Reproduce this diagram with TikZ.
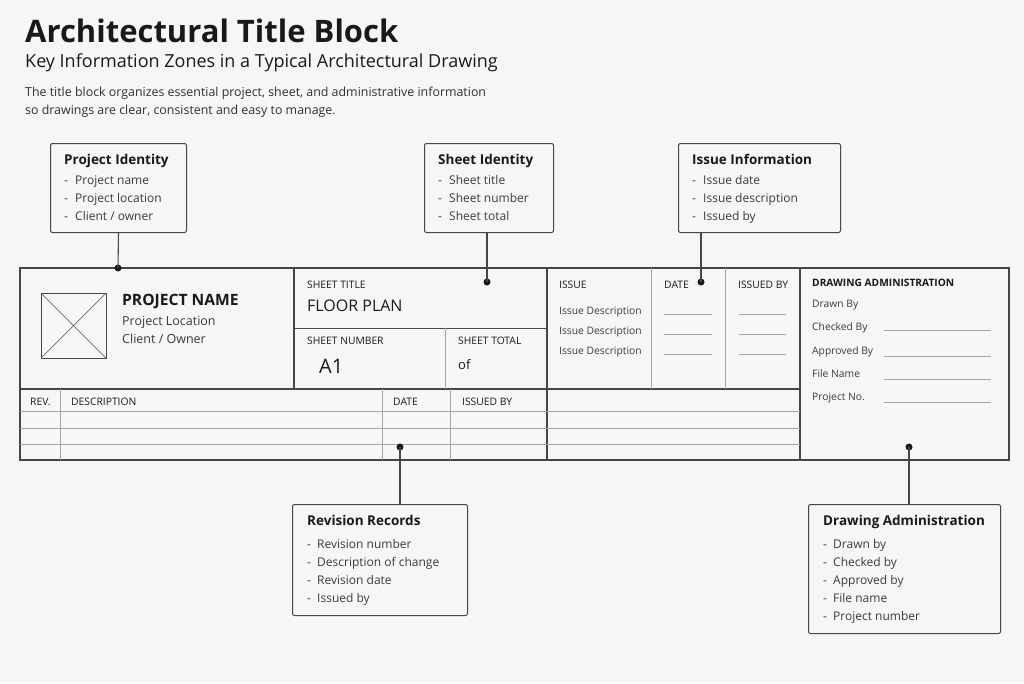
\documentclass[tikz,border=0pt]{standalone}
\usepackage{fontspec}
\setmainfont{Open Sans}
\definecolor{paper}{RGB}{246,246,244}
\definecolor{ink}{RGB}{25,25,25}
\definecolor{rule}{RGB}{70,70,70}
\definecolor{hair}{RGB}{165,165,165}
\newcommand{\fs}[1]{\fontsize{#1}{#1}\selectfont}

\begin{document}
\begin{tikzpicture}[x=1pt,y=-1pt,
    frame/.style={draw=rule, line width=1.3pt},
    thin/.style={draw=hair, line width=0.7pt},
    txt/.style={anchor=base west, inner sep=0pt, text=ink},
    hdr/.style={txt, font=\fs{10.3}},
    item/.style={txt, font=\fs{12}, text=ink!85},
    boxtitle/.style={txt, font=\bfseries\fs{13.5}},
    callout/.style={draw=rule, line width=1pt, rounded corners=2pt, fill=paper, anchor=north west, inner sep=0pt},
    dot/.style={circle, fill=ink, inner sep=0pt, minimum size=7pt},
    conn/.style={draw=rule, line width=1.1pt}]

% page
\fill[paper] (0,0) rectangle (1024,683);
\useasboundingbox (0,0) rectangle (1024,683);

% heading
\node[txt, font=\bfseries\fs{31}] (title) at (25,42.5) {Architectural Title Block};
\node[txt, font=\fs{18}] (subtitle) at (25,67.5) {Key Information Zones in a Typical Architectural Drawing};
\node[txt, font=\fs{12.4}, text=ink!90] (intro1) at (25,96) {The title block organizes essential project, sheet, and administrative information};
\node[txt, font=\fs{12.4}, text=ink!90] (intro2) at (25,114) {so drawings are clear, consistent and easy to manage.};

% title block frame
\draw[frame] (20,268) rectangle (1009,460);
\draw[frame] (294,268) -- (294,389);
\draw[frame] (20,389) -- (800,389);
\draw[frame] (547,268) -- (547,460);
\draw[frame] (800,268) -- (800,460);
\draw[draw=rule, line width=0.9pt] (294,328) -- (547,328);
\draw[thin] (445,328) -- (445,389);
\draw[thin] (651,268) -- (651,389);
\draw[thin] (725,268) -- (725,389);
\foreach \y in {411,428,444}
  \draw[thin] (20,\y) -- (800,\y);
\foreach \x in {60,382,450}
  \draw[thin] (\x,389) -- (\x,460);

% project zone
\draw[draw=rule, line width=1pt] (41,293) rectangle (106,358);
\draw[thin, draw=rule!80] (41,293) -- (106,358) (41,358) -- (106,293);
\node[txt, font=\bfseries\fs{15.6}] (pname) at (122,305) {PROJECT NAME};
\node[txt, font=\fs{12.5}, text=ink!85] (ploc) at (122,325) {Project Location};
\node[txt, font=\fs{12.5}, text=ink!85] (pcli) at (122,343) {Client / Owner};

% sheet zone
\node[hdr] (stitle) at (307,288) {SHEET TITLE};
\node[txt, font=\fs{16}] (floor) at (307,311) {FLOOR PLAN};
\node[hdr] (snum) at (307,344.5) {SHEET NUMBER};
\node[txt, font=\fs{20}] (aone) at (319,373) {A1};
\node[hdr] (stot) at (458,344.5) {SHEET TOTAL};
\node[txt, font=\fs{13}] (of) at (458,369) {of};

% issue zone
\node[hdr] (issue) at (559,288) {ISSUE};
\node[hdr] (idate) at (664,288) {DATE};
\node[hdr] (iby) at (738,288) {ISSUED BY};
\foreach \y [count=\i] in {314,334,354}{
  \node[txt, font=\fs{10.3}, text=ink!85] (idesc\i) at (559,\y) {Issue Description};
  \draw[thin] (664,\y) -- (712,\y);
  \draw[thin] (739,\y) -- (786,\y);
}

% revision table
\node[hdr] (rev) at (30,405) {REV.};
\node[hdr] (rdesc) at (71,405) {DESCRIPTION};
\node[hdr] (rdate) at (393,405) {DATE};
\node[hdr] (rby) at (462,405) {ISSUED BY};

% drawing administration zone
\node[txt, font=\bfseries\fs{10.2}] (dadm) at (812,286) {DRAWING ADMINISTRATION};
\node[txt, font=\fs{10.3}, text=ink!85] (drawn) at (812,307) {Drawn By};
\foreach \t/\y/\l [count=\i] in {Checked By/330/330, Approved By/354/356, File Name/377/379, Project No./400/402}{
  \node[txt, font=\fs{10.3}, text=ink!85] (adm\i) at (812,\y) {\t};
  \draw[thin] (884,\l) -- (991,\l);
}

% callouts
\node[callout, minimum width=136pt, minimum height=89pt] (pid) at (50,143) {};
\node[boxtitle] (pidt) at (64,164) {Project Identity};
\foreach \t [count=\i] in {Project name, Project location, Client / owner}{
  \node[item] at (64,{166+18*\i}) {-};
  \node[item] (pid\i) at (75,{166+18*\i}) {\t};
}

\node[callout, minimum width=129pt, minimum height=89pt] (sid) at (424,143) {};
\node[boxtitle] (sidt) at (438,164) {Sheet Identity};
\foreach \t [count=\i] in {Sheet title, Sheet number, Sheet total}{
  \node[item] at (438,{166+18*\i}) {-};
  \node[item] (sid\i) at (449,{166+18*\i}) {\t};
}

\node[callout, minimum width=162pt, minimum height=89pt] (iid) at (678,143) {};
\node[boxtitle] (iidt) at (692,164) {Issue Information};
\foreach \t [count=\i] in {Issue date, Issue description, Issued by}{
  \node[item] at (692,{166+18*\i}) {-};
  \node[item] (iid\i) at (703,{166+18*\i}) {\t};
}

\node[callout, minimum width=175pt, minimum height=111pt] (rrec) at (292,504) {};
\node[boxtitle] (rrect) at (307,525) {Revision Records};
\foreach \t [count=\i] in {Revision number, Description of change, Revision date, Issued by}{
  \node[item] at (307,{530+18*\i}) {-};
  \node[item] (rrec\i) at (317,{530+18*\i}) {\t};
}

\node[callout, minimum width=192pt, minimum height=129pt] (dad) at (808,504) {};
\node[boxtitle] (dadt) at (823,525) {Drawing Administration};
\foreach \t [count=\i] in {Drawn by, Checked by, Approved by, File name, Project number}{
  \node[item] at (823,{530+18*\i}) {-};
  \node[item] (dad\i) at (833,{530+18*\i}) {\t};
}

% connectors
\node[dot] (pdot) at (118,268) {};
\node[dot] (sdot) at (487,282) {};
\node[dot] (idot) at (701,282) {};
\node[dot] (rdot) at (400,447) {};
\node[dot] (adot) at (909,447) {};
\draw[conn] (pid.south) -- (pdot.center);
\draw[conn] (sid.south -| sdot) -- (sdot.center);
\draw[conn] (iid.south -| idot) -- (idot.center);
\draw[conn] (rdot.center) -- (rdot |- rrec.north);
\draw[conn] (adot.center) -- (adot |- dad.north);
\end{tikzpicture}
\end{document}
